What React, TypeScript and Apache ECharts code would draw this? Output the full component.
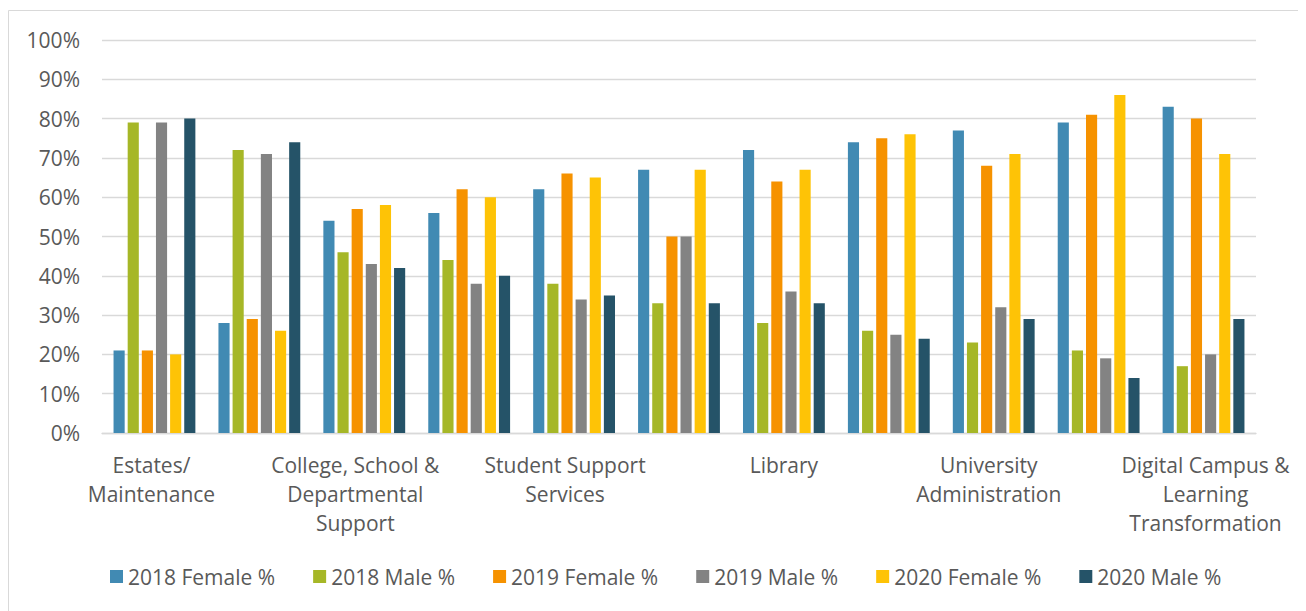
import React, { useEffect, useRef } from "react";
import * as echarts from "echarts";

// Department groups along the x axis; every other group carries no printed label.
const categories: string[] = [
  "Estates/\nMaintenance",
  "",
  "College, School &\nDepartmental\nSupport",
  "",
  "Student Support\nServices",
  "",
  "Library",
  "",
  "University\nAdministration",
  "",
  "Digital Campus &\nLearning\nTransformation",
];

// Horizontal nudge (px, negative = left) applied to each printed label.
const labelShift: number[] = [-3, 0, -9, 0, -9, 0, 0, 0, -5, 0, 2];

const seriesNames: string[] = [
  "2018 Female %",
  "2018 Male %",
  "2019 Female %",
  "2019 Male %",
  "2020 Female %",
  "2020 Male %",
];

const female2018: number[] = [21, 28, 54, 56, 62, 67, 72, 74, 77, 79, 83];
const male2018: number[] = [79, 72, 46, 44, 38, 33, 28, 26, 23, 21, 17];
const female2019: number[] = [21, 29, 57, 62, 66, 50, 64, 75, 68, 81, 80];
const male2019: number[] = [79, 71, 43, 38, 34, 50, 36, 25, 32, 19, 20];
const female2020: number[] = [20, 26, 58, 60, 65, 67, 67, 76, 71, 86, 71];
const male2020: number[] = [80, 74, 42, 40, 35, 33, 33, 24, 29, 14, 29];

const seriesValues: number[][] = [
  female2018,
  male2018,
  female2019,
  male2019,
  female2020,
  male2020,
];

const colors: string[] = ["#418AB3", "#A6B727", "#F69200", "#838383", "#FEC306", "#255368"];

const yTicks = { min: 0, max: 100, step: 10 };

const FONT = "'Open Sans', 'Noto Sans', sans-serif";
const TEXT_COLOR = "#595959";
const GRID_COLOR = "#D9D9D9";

export default function App() {
  const ref = useRef<HTMLDivElement>(null);

  useEffect(() => {
    if (!ref.current) return;
    const chart = echarts.init(ref.current, undefined, { renderer: "svg" });

    const axisData = categories.map((name, i) => ({
      value: name,
      textStyle: {
        padding:
          labelShift[i] < 0
            ? [0, -2 * labelShift[i], 0, 0]
            : [0, 0, 0, 2 * labelShift[i]],
      },
    }));

    chart.setOption({
      animation: false,
      backgroundColor: "#FFFFFF",
      textStyle: { fontFamily: FONT },
      color: colors,
      grid: { left: 94, right: 50, top: 32, bottom: 178, containLabel: false },
      legend: {
        data: seriesNames,
        left: 97,
        top: 553,
        icon: "rect",
        itemWidth: 13,
        itemHeight: 13,
        itemGap: 38,
        textStyle: { fontFamily: FONT, fontSize: 21, color: TEXT_COLOR },
      },
      xAxis: {
        type: "category",
        data: axisData,
        axisTick: { show: false },
        axisLine: { show: true, lineStyle: { color: GRID_COLOR, width: 1.3 } },
        axisLabel: {
          interval: 0,
          margin: 17,
          fontFamily: FONT,
          fontSize: 21,
          lineHeight: 29,
          color: TEXT_COLOR,
          align: "center",
        },
      },
      yAxis: {
        type: "value",
        min: yTicks.min,
        max: yTicks.max,
        interval: yTicks.step,
        axisLine: { show: false },
        axisTick: { show: false },
        splitLine: { lineStyle: { color: GRID_COLOR, width: 1.3 } },
        axisLabel: {
          formatter: "{value}%",
          margin: 22,
          fontFamily: FONT,
          fontSize: 21,
          color: TEXT_COLOR,
        },
      },
      graphic: [
        {
          type: "rect",
          silent: true,
          z: -1,
          shape: { x: 0.5, y: 2.5, width: 1400, height: 700 },
          style: { fill: "none", stroke: GRID_COLOR, lineWidth: 1 },
        },
      ],
      series: seriesNames.map((name, i) => ({
        name,
        type: "bar",
        data: seriesValues[i],
        barGap: "27%",
        barCategoryGap: "22%",
        itemStyle: { color: colors[i] },
      })),
    });

    return () => chart.dispose();
  }, []);

  return <div ref={ref} style={{ width: 1298, height: 603 }} />;
}
